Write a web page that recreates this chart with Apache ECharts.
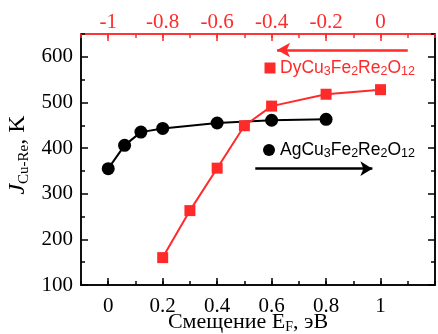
<!DOCTYPE html>
<html>
<head>
<meta charset="utf-8">
<script src="https://cdn.jsdelivr.net/npm/echarts@6/dist/echarts.min.js"></script>
<style>
  html, body { margin: 0; padding: 0; background: #fff; }
  #chart { width: 438px; height: 334px; }
</style>
</head>
<body>
<div id="chart"></div>
<script>
// AgCu3Fe2Re2O12 (bottom axis)
const agShift = [0, 0.06, 0.12, 0.2, 0.4, 0.6, 0.8]
const agJ = [355, 406, 435, 443, 455, 461, 463]
// DyCu3Fe2Re2O12 (top axis)
const dyShift = [-0.8, -0.7, -0.6, -0.5, -0.4, -0.2, 0]
const dyJ = [160, 263, 356, 449, 492, 518, 528]

const bottomTicks = [0, 0.2, 0.4, 0.6, 0.8, 1]
const topTicks = [-1, -0.8, -0.6, -0.4, -0.2, 0]
const yTicks = [100, 200, 300, 400, 500, 600]

const RED = '#ff2a2a'
const SERIF = 'Liberation Serif'
const SANS = 'Liberation Sans'

const chart = echarts.init(document.getElementById('chart'))

// grid 0: axis lines, all (short) ticks and labels
// grid 1: same rectangle, only the long major ticks
function mainAxis(pos, color, min, max, step, labels, margin) {
  return {
    type: 'value',
    gridIndex: 0,
    position: pos,
    min: min,
    max: max,
    interval: step,
    axisLine: { show: true, onZero: false, lineStyle: { color: color, width: 1.5 } },
    axisTick: { show: true, inside: true, length: 4, lineStyle: { color: color, width: 1.5 } },
    axisLabel: labels
      ? { show: true, customValues: labels, margin: margin,
          fontFamily: SERIF, fontSize: 21, color: color }
      : { show: false },
    splitLine: { show: false }
  }
}

function majorAxis(pos, color, min, max, ticks) {
  return {
    type: 'value',
    gridIndex: 1,
    position: pos,
    min: min,
    max: max,
    axisLine: { show: true, onZero: false, lineStyle: { color: color, width: 1.5 } },
    axisTick: { show: true, inside: true, length: 7, customValues: ticks, lineStyle: { color: color, width: 1.5 } },
    axisLabel: { show: false },
    splitLine: { show: false }
  }
}

function formula(name) {
  // "AgCu3Fe2Re2O12" -> rich text with subscripts
  return name.replace(/(\d+)/g, '{s|$1}').replace(/(^|\})([^{}]+)(?=\{|$)/g, '$1{t|$2}')
}

function subRich(family, size, subSize, color) {
  return {
    t: { fontFamily: family, fontSize: size, fill: color, color: color, lineHeight: size + 3, verticalAlign: 'middle' },
    j: { fontFamily: family, fontStyle: 'italic', fontSize: size, fill: color, color: color, lineHeight: size + 3, verticalAlign: 'middle' },
    s: { fontFamily: family, fontSize: subSize, fill: color, color: color, lineHeight: subSize, verticalAlign: 'bottom' }
  }
}

const gridRect = { left: 81, right: 3, top: 34, bottom: 49, outerBoundsMode: 'none' }

chart.setOption({
  animation: false,
  grid: [gridRect, Object.assign({}, gridRect)],
  xAxis: [
    mainAxis('bottom', '#000', -0.1, 1.2, 0.1, bottomTicks, 11),
    mainAxis('top', RED, -1.1, 0.2, 0.1, topTicks, 1),
    majorAxis('bottom', '#000', -0.1, 1.2, bottomTicks),
    majorAxis('top', RED, -1.1, 0.2, topTicks)
  ],
  yAxis: [
    mainAxis('left', '#000', 100, 650, 50, yTicks, 8),
    mainAxis('right', '#000', 100, 650, 50, null, 0),
    majorAxis('left', '#000', 100, 650, yTicks),
    majorAxis('right', '#000', 100, 650, yTicks)
  ],
  graphic: [
    // axis titles
    { type: 'text', x: 248, y: 322, silent: true,
      style: { text: '{t|Смещение E}{s|F}{t|, эВ}', rich: subRich(SERIF, 22, 14, '#000'), align: 'center', verticalAlign: 'middle' } },
    { type: 'text', x: 18, y: 155, rotation: Math.PI / 2, silent: true,
      style: { text: '{j|J}{s|Cu-Re}{t|, K}', rich: subRich(SERIF, 24, 15, '#000'), align: 'center', verticalAlign: 'middle' } },
    // legend entries
    { type: 'rect', shape: { x: 264.5, y: 62.5, width: 11, height: 11 }, style: { fill: RED }, silent: true },
    { type: 'text', x: 280, y: 68, silent: true,
      style: { text: formula('DyCu3Fe2Re2O12'), rich: subRich(SANS, 17.5, 12.5, RED), align: 'left', verticalAlign: 'middle' } },
    { type: 'circle', shape: { cx: 269, cy: 150, r: 6 }, style: { fill: '#000' }, silent: true },
    { type: 'text', x: 280, y: 150, silent: true,
      style: { text: formula('AgCu3Fe2Re2O12'), rich: subRich(SANS, 17.5, 12.5, '#000'), align: 'left', verticalAlign: 'middle' } }
  ],
  series: [
    {
      name: 'AgCu3Fe2Re2O12',
      type: 'line',
      xAxisIndex: 0,
      yAxisIndex: 0,
      data: agShift.map((x, i) => [x, agJ[i]]),
      symbol: 'circle',
      symbolSize: 13,
      itemStyle: { color: '#000' },
      lineStyle: { color: '#000', width: 2 },
      markLine: {
        silent: true,
        symbol: ['none', 'arrow'],
        symbolSize: [11, 12],
        label: { show: false },
        lineStyle: { color: '#000', width: 2.5, type: 'solid' },
        data: [[{ coord: [0.54, 355] }, { coord: [0.97, 355] }]]
      },
      z: 2
    },
    {
      name: 'DyCu3Fe2Re2O12',
      type: 'line',
      xAxisIndex: 1,
      yAxisIndex: 0,
      data: dyShift.map((x, i) => [x, dyJ[i]]),
      symbol: 'rect',
      symbolSize: 11,
      itemStyle: { color: RED },
      lineStyle: { color: RED, width: 2 },
      markLine: {
        silent: true,
        symbol: ['none', 'arrow'],
        symbolSize: [11, 13],
        label: { show: false },
        lineStyle: { color: RED, width: 2.5, type: 'solid' },
        data: [[{ coord: [0.1, 615] }, { coord: [-0.38, 615] }]]
      },
      z: 3
    }
  ]
})
</script>
</body>
</html>
